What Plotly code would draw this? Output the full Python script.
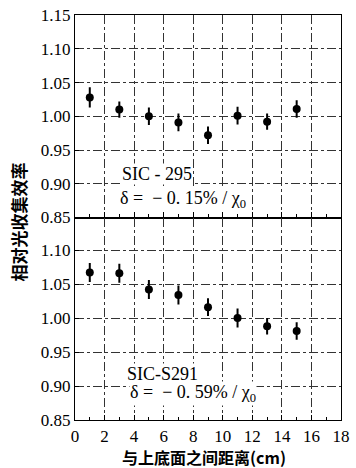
import plotly.graph_objects as go
from plotly.subplots import make_subplots

# Data
positions = [1, 3, 5, 7, 9, 11, 13, 15]
eff_sic295 = [1.028, 1.010, 1.000, 0.991, 0.972, 1.001, 0.992, 1.011]
err_sic295 = [0.015, 0.012, 0.013, 0.013, 0.013, 0.013, 0.012, 0.013]
eff_sics291 = [1.067, 1.066, 1.042, 1.034, 1.016, 1.000, 0.988, 0.981]
err_sics291 = [0.014, 0.014, 0.014, 0.014, 0.013, 0.014, 0.012, 0.013]

x_ticks = [0, 2, 4, 6, 8, 10, 12, 14, 16, 18]
y_ticks_top = [0.85, 0.90, 0.95, 1.00, 1.05, 1.10, 1.15]
y_ticks_bottom = [0.85, 0.90, 0.95, 1.00, 1.05, 1.10]

label_top = "SIC - 295"
delta_top = "δ =  − 0. 15% / χ<sub>0</sub>"
label_bottom = "SIC-S291"
delta_bottom = "δ =  − 0. 59% / χ<sub>0</sub>"
y_title = "相对光收集效率"
x_title = "与上底面之间距离(cm)"

fig = make_subplots(rows=2, cols=1, shared_xaxes=True, vertical_spacing=0)

serif = "Liberation Serif"
cjk = "Noto Sans CJK SC"

for row, ys, es in [(1, eff_sic295, err_sic295), (2, eff_sics291, err_sics291)]:
    fig.add_trace(go.Scatter(
        x=positions, y=ys, mode="markers",
        marker=dict(color="black", size=8, symbol="circle"),
        error_y=dict(type="data", array=es, visible=True, color="black",
                     thickness=2, width=0),
        showlegend=False), row=row, col=1)

grid = dict(showgrid=True, gridcolor="#333333", gridwidth=1, griddash="dashdot")
axline = dict(showline=True, linecolor="black", linewidth=1.3, mirror=True)
tickfont = dict(family=serif, size=17, color="black")

for row in (1, 2):
    fig.update_xaxes(range=[0, 18.0001], tickvals=x_ticks, ticks="inside", ticklen=5,
                     tickcolor="black", tickfont=tickfont, zeroline=False,
                     ticklabeloverflow="allow",
                     minor=dict(ticks="inside", dtick=1, ticklen=3, tickcolor="black",
                                showgrid=False),
                     row=row, col=1, **grid, **axline)

fig.update_xaxes(showticklabels=False, row=1, col=1)
fig.update_yaxes(range=[0.85, 1.1502], tickvals=y_ticks_top,
                 ticktext=[f"{v:.2f}" for v in y_ticks_top],
                 ticks="inside", ticklen=4, tickcolor="black", tickfont=tickfont,
                 ticklabeloverflow="allow",
                 zeroline=False, row=1, col=1, **grid, **axline)
fig.update_yaxes(range=[0.85, 1.148], tickvals=y_ticks_bottom,
                 ticktext=[f"{v:.2f}" for v in y_ticks_bottom],
                 ticks="inside", ticklen=4, tickcolor="black", tickfont=tickfont,
                 ticklabeloverflow="allow",
                 zeroline=False, row=2, col=1, **grid, **axline)

annfont = dict(family=serif, size=18, color="black")
fig.add_annotation(x=5.55, y=0.914, xref="x", yref="y", text=label_top,
                   showarrow=False, font=annfont, bgcolor="white", borderpad=0)
fig.add_annotation(x=7.3, y=0.876, xref="x", yref="y", text=delta_top,
                   showarrow=False, font=annfont, bgcolor="white", borderpad=0)
fig.add_annotation(x=5.9, y=0.917, xref="x2", yref="y2", text=label_bottom,
                   showarrow=False, font=annfont, bgcolor="white", borderpad=0)
fig.add_annotation(x=8.0, y=0.889, xref="x2", yref="y2", text=delta_bottom,
                   showarrow=False, font=annfont, bgcolor="white", borderpad=0)

fig.add_annotation(x=-0.211, y=0.49, xref="paper", yref="paper", text=f"<b>{y_title}</b>",
                   textangle=-90, showarrow=False, xanchor="center", yanchor="middle",
                   font=dict(family=cjk, size=17, color="black"))
fig.add_annotation(x=0.484, y=-0.092, xref="paper", yref="paper", text=f"<b>{x_title}</b>",
                   showarrow=False, xanchor="center", yanchor="middle",
                   font=dict(family=cjk, size=16, color="black"))

fig.update_layout(width=356, height=468, margin=dict(l=75, r=6, t=8, b=48),
                  plot_bgcolor="white", paper_bgcolor="white")

fig.write_html("out.html")
